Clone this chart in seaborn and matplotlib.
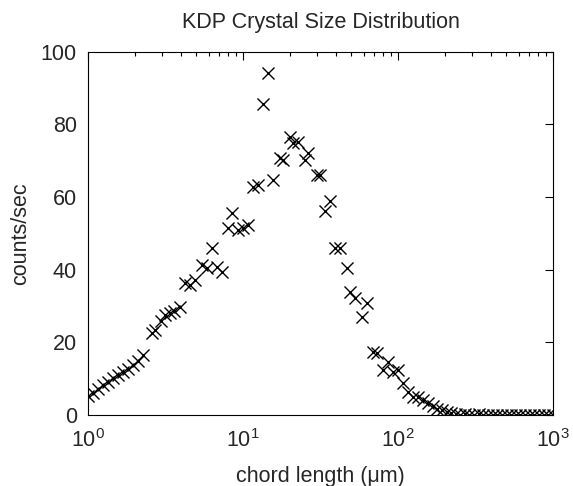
import seaborn as sns
import numpy as np
import matplotlib.pyplot as plt
from matplotlib.ticker import FixedLocator, LogLocator, NullFormatter

sns.set_style("white")
plt.rcParams['font.family'] = ['Liberation Sans', 'DejaVu Sans']
plt.rcParams['mathtext.fontset'] = 'custom'
plt.rcParams['mathtext.rm'] = 'Liberation Sans'
plt.rcParams['mathtext.it'] = 'Liberation Sans:italic'

# chord length (um)
chord = [1.00, 1.077, 1.160, 1.250, 1.346, 1.450, 1.562, 1.682, 1.812, 1.951,
         2.102, 2.264, 2.576, 2.706, 2.936, 3.139, 3.381, 3.588, 3.923, 4.225,
         4.551, 4.901, 5.414, 5.833, 6.282, 6.767, 7.289, 8.040, 8.456, 9.326,
         10.04, 10.82, 11.66, 12.55, 13.52, 14.57, 15.69, 17.33, 18.20, 20.10,
         21.11, 22.74, 25.12, 26.38, 29.89, 31.40, 33.81, 36.42, 39.23, 42.25,
         46.67, 49.01, 52.79, 58.32, 62.83, 69.28, 72.88, 80.40, 86.58, 93.26,
         100.4, 108.2, 116.6, 125.5, 135.2, 145.7, 156.9, 168.2, 179.8, 192.2,
         205.6, 219.8, 235.0, 251.2, 269.2, 288.4, 309.0, 331.1, 354.8, 380.2,
         407.4, 436.5, 467.7, 501.2, 537.0, 575.4, 616.6, 660.7, 707.9, 758.6,
         812.8, 871.0, 933.3, 1000.0]

counts = [5.2, 6.0, 7.3, 8.4, 9.2, 10.1, 11.0, 11.9, 12.8, 13.8,
          14.9, 16.5, 22.5, 23.4, 26.0, 27.5, 28.0, 28.6, 29.8, 36.2,
          35.8, 37.1, 41.3, 40.4, 45.9, 40.8, 39.4, 51.4, 55.5, 50.9,
          51.4, 52.3, 62.6, 63.3, 85.7, 94.0, 64.6, 70.6, 70.2, 76.6,
          74.7, 75.2, 70.2, 72.0, 66.0, 66.0, 56.2, 59.0, 45.9, 45.9,
          40.4, 33.9, 32.1, 27.0, 30.7, 17.4, 17.0, 12.4, 14.7, 11.9,
          12.4, 8.7, 6.3, 5.0, 5.0, 4.1, 3.2, 2.5, 1.8, 1.4,
          0.9, 0.5, 0.3, 0.0, 0.3, 0.0, 0.0, 0.3, 0.0, 0.0,
          0.0, 0.0, 0.0, 0.0, 0.0, 0.0, 0.0, 0.0, 0.0, 0.0,
          0.0, 0.0, 0.0, 0.0]

y_ticks = [0, 20, 40, 60, 80, 100]
x_ticks = [1, 10, 100, 1000]
x_labels = ['$10^{0}$', '$10^{1}$', '$10^{2}$', '$10^{3}$']

fig = plt.figure(figsize=(5.73, 4.86), dpi=100)
ax = fig.add_axes([0.1536, 0.146, 0.8115, 0.748])

sns.scatterplot(x=chord, y=counts, marker='x', color='k', s=75,
                linewidth=1.0, ax=ax, legend=False)

ax.set_xscale('log')
ax.set_xlim(1, 1000)
ax.set_ylim(0, 100)
ax.xaxis.set_major_locator(FixedLocator(x_ticks))
ax.set_xticklabels(x_labels)
ax.xaxis.set_minor_locator(LogLocator(base=10, subs=np.arange(2, 10)))
ax.xaxis.set_minor_formatter(NullFormatter())
ax.set_yticks(y_ticks)

ax.tick_params(which='both', direction='in', top=True, right=True,
               labelsize=15.5, color='k', width=0.8)
ax.tick_params(which='major', length=6)
ax.tick_params(which='minor', length=3)
ax.tick_params(axis='x', pad=10)
ax.tick_params(axis='y', pad=8)
for s in ax.spines.values():
    s.set_color('k')
    s.set_linewidth(0.8)

ax.set_title('KDP Crystal Size Distribution', fontsize=15.5, pad=17)
ax.set_xlabel('chord length (μm)', fontsize=15.5, labelpad=10)
ax.set_ylabel('counts/sec', fontsize=15.5, labelpad=7)

fig.savefig('out.png', dpi=100)
